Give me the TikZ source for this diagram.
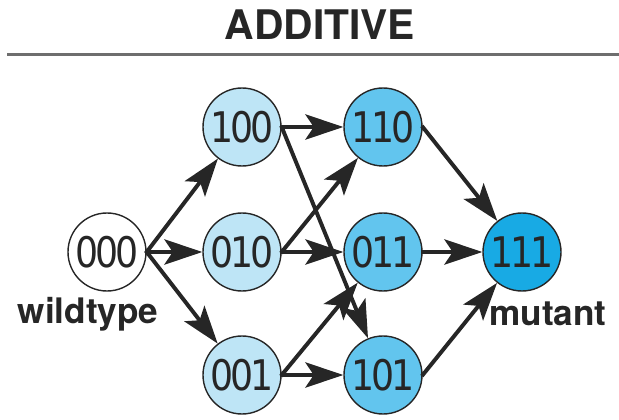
\documentclass[tikz,border=0pt]{standalone}
\usepackage{fontspec}
\setsansfont{TeX Gyre Heros}
\newfontfamily\numfont[FakeStretch=0.86, LetterSpace=-7]{DejaVu Sans}
\usepackage{tikz}
\usetikzlibrary{arrows.meta,positioning,calc}

\definecolor{wildcol}{HTML}{FFFFFF}
\definecolor{singlecol}{HTML}{BEE5F6}
\definecolor{doublecol}{HTML}{62C5EE}
\definecolor{triplecol}{HTML}{18AAE4}
\definecolor{rulecol}{HTML}{6E6E6E}

\begin{document}
\begin{tikzpicture}[
    % --- STYLES ---
    geno/.style={
        circle, draw=black!85, line width=1pt,
        minimum size=1.95cm, inner sep=0pt,
        font=\numfont\fontsize{30}{30}\selectfont,
        text=black!85
    },
    tag/.style={font=\sffamily\bfseries\fontsize{25}{25}\selectfont, text=black!85},
    mut/.style={-{Stealth[length=27pt, width=18pt, inset=6pt]}, line width=2.8pt, black!85, shorten <=-1pt}
]
\useasboundingbox (0,0) rectangle (15.475,10.475);

% ===== 1. TITLE =====
\node[font=\sffamily\bfseries\fontsize{29}{29}\selectfont, text=black!85] (title) at (8.0, 9.87) {ADDITIVE};
\draw[rulecol, line width=2.2pt] (0.175, 9.12) -- (15.475, 9.12);

% ===== 2. COORDINATES =====
\def\xA{2.675}
\def\xB{6.05}
\def\xC{9.575}
\def\xD{13.05}
\def\yTop{7.3}
\def\yMid{4.175}
\def\yBot{1.1}

% ===== 3. GENOTYPE NODES =====
\node[geno, fill=wildcol] (g000) at (\xA, \yMid) {000};

\node[geno, fill=singlecol] (g100) at (\xB, \yTop) {100};
\node[geno, fill=singlecol] (g010) at (\xB, \yMid) {010};
\node[geno, fill=singlecol] (g001) at (\xB, \yBot) {001};

\node[geno, fill=doublecol] (g110) at (\xC, \yTop) {110};
\node[geno, fill=doublecol] (g011) at (\xC, \yMid) {011};
\node[geno, fill=doublecol] (g101) at (\xC, \yBot) {101};

\node[geno, fill=triplecol] (g111) at (\xD, \yMid) {111};

% Nhãn
\node[tag] (wt) at (2.2, 2.62) {wildtype};
\node[tag] (mt) at (13.7, 2.62) {mutant};

% ===== 4. CONNECTIONS =====
% -- 000 sang đột biến đơn --
\draw[mut] (g000.east) -- (g100);
\draw[mut] (g000.east) -- (g010);
\draw[mut] (g000.east) -- (g001);

% -- đột biến đơn sang đột biến kép --
\draw[mut] (g100.east) -- (g110);
\draw[mut] (g100.east) -- (g101);
\draw[mut] (g010.east) -- (g110);
\draw[mut] (g010.east) -- (g011);
\draw[mut] (g001.east) -- (g011);
\draw[mut] (g001.east) -- (g101);

% -- hội tụ về 111 --
\draw[mut] (g110.east) -- (g111);
\draw[mut] (g011.east) -- (g111);
\draw[mut] (g101.east) -- (g111);

\end{tikzpicture}
\end{document}
